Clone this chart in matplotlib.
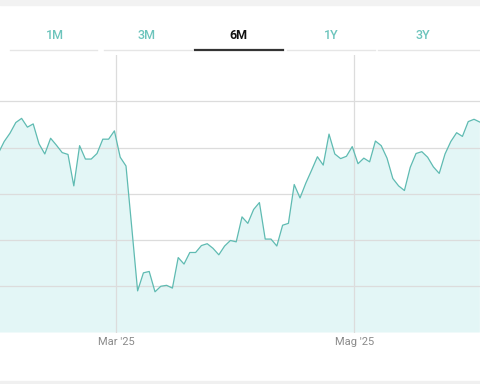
import matplotlib
matplotlib.use("Agg")
import matplotlib.pyplot as plt
from matplotlib.lines import Line2D
from matplotlib.patches import Rectangle
import numpy as np

plt.rcParams['font.family'] = ['Roboto', 'DejaVu Sans']

# ---- data ----
values = [3.88, 4.13, 4.31, 4.54, 4.63, 4.44, 4.51, 4.08, 3.86, 4.20,
          4.05, 3.89, 3.85, 3.17, 4.04, 3.75, 3.75, 3.87, 4.18, 4.18,
          4.36, 3.79, 3.60, 2.26, 0.90, 1.29, 1.32, 0.88, 1.00, 1.02,
          0.96, 1.62, 1.48, 1.73, 1.73, 1.88, 1.92, 1.82, 1.68, 1.87,
          1.99, 1.96, 2.50, 2.36, 2.66, 2.81, 2.02, 2.02, 1.87, 2.32,
          2.36, 3.20, 2.91, 3.23, 3.51, 3.80, 3.62, 4.29, 3.86, 3.76,
          3.81, 4.02, 3.65, 3.77, 3.69, 4.14, 4.04, 3.77, 3.33, 3.17,
          3.07, 3.57, 3.87, 3.91, 3.79, 3.58, 3.44, 3.86, 4.13, 4.32,
          4.24, 4.56, 4.61, 4.55]
tick_pos = [20.36, 61.36]
tick_labels = ["Mar '25", "Mag '25"]
tabs = ["1M", "3M", "6M", "1Y", "3Y"]
active_tab = "6M"

x = np.arange(len(values))

W, H = 480, 384
fig = plt.figure(figsize=(W / 100, H / 100), dpi=100)
fig.patch.set_facecolor('white')

ax = fig.add_axes([0, (H - 332.5) / H, 1, (332.5 - 55) / H])
ax.set_facecolor('none')
ax.set_xlim(0.276, 83.03)
ax.set_ylim(0, 6)

line_color = '#5fbbb2'
ax.fill_between(x, values, 0, color='#e3f6f6', zorder=1, linewidth=0)
ax.plot(x, values, color=line_color, linewidth=0.9, zorder=3)

for gy in [1, 2, 3, 4, 5]:
    ax.axhline(gy, color='#dcdcdc', linewidth=0.9, zorder=2)
for tx in tick_pos:
    ax.axvline(tx, color='#dcdcdc', linewidth=0.9, zorder=2)

ax.set_xticks(tick_pos)
ax.set_xticklabels(tick_labels, fontsize=8, color='#8a8a8a')
ax.tick_params(axis='x', length=0, pad=3.5)
ax.set_yticks([])
for s in ax.spines.values():
    s.set_visible(False)

# ---- top tabs ----
tab_x = [55, 146.7, 238.3, 331, 422.7]
for t, tx in zip(tabs, tab_x):
    if t == active_tab:
        fig.text(tx / W, 1 - 35.5 / H, t, ha='center', va='center',
                 fontsize=9, fontweight='bold', color='#111111')
    else:
        fig.text(tx / W, 1 - 35.5 / H, t, ha='center', va='center',
                 fontsize=9, fontweight='medium', color='#6cc4bc')

yl = 1 - 49.5 / H
segs = [(10, 96.7), (104, 192), (287, 375), (377.7, 480)]
for a, b in segs:
    fig.add_artist(Line2D([a / W, b / W], [yl, yl], color='#e6e6e6',
                          linewidth=1.0, transform=fig.transFigure))
fig.add_artist(Line2D([195 / W, 282.7 / W], [yl, yl], color='#333333',
                      linewidth=1.6, transform=fig.transFigure))

# top and bottom grey bands
fig.add_artist(Rectangle((0, 1 - 5 / H), 1, 5 / H, color='#f2f2f2',
                         transform=fig.transFigure, zorder=0))
fig.add_artist(Rectangle((0, 0), 1, 3 / H, color='#f0f0f0',
                         transform=fig.transFigure, zorder=0))

fig.savefig('out.png', dpi=100)
